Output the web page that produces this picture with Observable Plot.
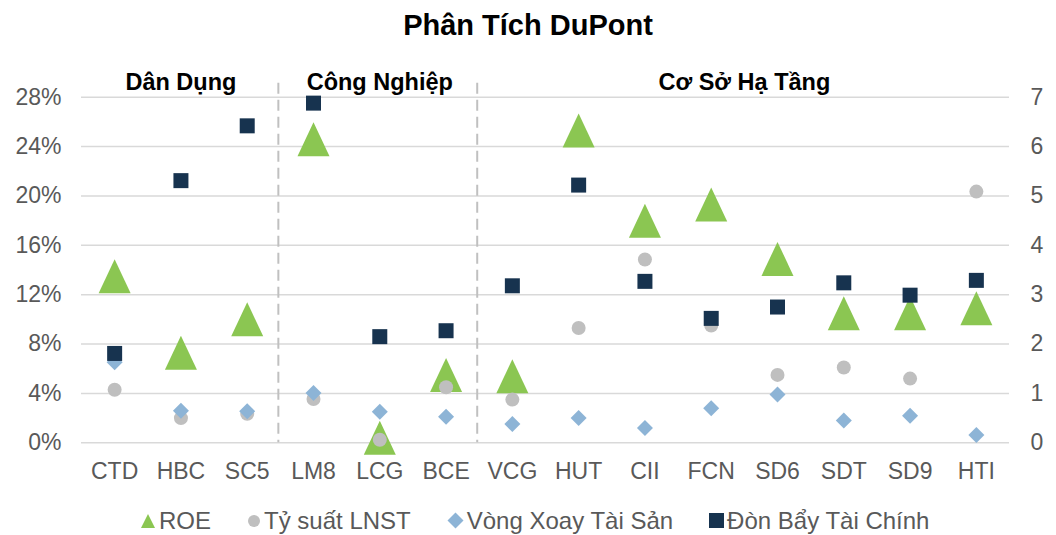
<!DOCTYPE html>
<html>
<head>
<meta charset="utf-8">
<script src="https://cdn.jsdelivr.net/npm/d3@7"></script>
<script src="https://cdn.jsdelivr.net/npm/@observablehq/plot@0.6"></script>
<style>
  body { margin: 0; background: #fff; font-family: "Liberation Sans", Arial, sans-serif; }
  #wrap { width: 1056px; height: 535px; overflow: hidden; }
  #title { height: 50px; line-height: 50px; text-align: center; font-size: 29px; font-weight: bold; color: #000; }
  #chart svg { display: block; }
  #legend { height: 35px; display: flex; align-items: center; padding-left: 140px; padding-top: 6px; box-sizing: border-box; gap: 36px; }
  .item { display: flex; align-items: center; gap: 3px; font-size: 24px; color: #595959; white-space: nowrap; }
  .item svg { display: block; }
</style>
</head>
<body>
<div id="wrap">
  <div id="title">Phân Tích DuPont</div>
  <div id="chart"></div>
  <div id="legend"></div>
</div>
<script>
// ---- data ----
const categories = ["CTD","HBC","SC5","LM8","LCG","BCE","VCG","HUT","CII","FCN","SD6","SDT","SD9","HTI"];
const sectorOf   = ["Dân Dụng","Dân Dụng","Dân Dụng","Công Nghiệp","Công Nghiệp","Công Nghiệp",
                    "Cơ Sở Hạ Tầng","Cơ Sở Hạ Tầng","Cơ Sở Hạ Tầng","Cơ Sở Hạ Tầng","Cơ Sở Hạ Tầng","Cơ Sở Hạ Tầng","Cơ Sở Hạ Tầng","Cơ Sở Hạ Tầng"];
const sectors    = ["Dân Dụng","Công Nghiệp","Cơ Sở Hạ Tầng"];
// left axis (%)
const roe      = [13.5, 7.3, 10.0, 24.6, 0.4, 5.5, 5.4, 25.3, 18.0, 19.3, 14.9, 10.5, 10.5, 10.9];
const lnst     = [4.3, 2.0, 2.35, 3.55, 0.25, 4.5, 3.5, 9.3, 14.85, 9.5, 5.5, 6.1, 5.2, 20.35];
// right axis (times)
const vongXoay = [1.63, 0.65, 0.64, 1.01, 0.63, 0.53, 0.38, 0.50, 0.30, 0.70, 0.98, 0.45, 0.55, 0.16];
const donBay   = [1.81, 5.31, 6.42, 6.88, 2.15, 2.27, 3.18, 5.22, 3.27, 2.52, 2.75, 3.24, 2.99, 3.29];
const leftTicks  = [0, 4, 8, 12, 16, 20, 24, 28];
const rightTicks = [0, 1, 2, 3, 4, 5, 6, 7];
const seriesNames = ["ROE", "Tỷ suất LNST", "Vòng Xoay Tài Sản", "Đòn Bẩy Tài Chính"];

// ---- styling ----
const colors = ["#8BC652", "#BFBFBF", "#8DB4D6", "#17334F"];
const ratio = 28 / 7; // right axis -> left axis units

// custom symbols (bbox-centred like Excel markers); r = half extent
const rOf = size => Math.sqrt(size / Math.PI);
const triangle = { draw(ctx, size) { const r = rOf(size), w = r * 16 / 17; ctx.moveTo(0, -r); ctx.lineTo(w, r); ctx.lineTo(-w, r); ctx.closePath(); } };
const circle   = { draw(ctx, size) { const r = rOf(size); ctx.moveTo(r, 0); ctx.arc(0, 0, r, 0, 2 * Math.PI); ctx.closePath(); } };
const diamond  = { draw(ctx, size) { const r = rOf(size); ctx.moveTo(0, -r); ctx.lineTo(r, 0); ctx.lineTo(0, r); ctx.lineTo(-r, 0); ctx.closePath(); } };
const square   = { draw(ctx, size) { const r = rOf(size); ctx.rect(-r, -r, 2 * r, 2 * r); } };

const rows = categories.map((c, i) => ({ i, c, roe: roe[i], lnst: lnst[i], vx: vongXoay[i] * ratio, db: donBay[i] * ratio }));

// sector label centres and separators
const groupData = sectors.map(name => {
  const idx = categories.map((c, i) => i).filter(i => sectorOf[i] === name);
  return { name, center: d3.mean(idx) };
});
const separators = categories.map((c, i) => i).filter(i => i > 0 && sectorOf[i] !== sectorOf[i - 1]).map(i => i - 0.5);

const font = "'Liberation Sans', Arial, sans-serif";
const chart = Plot.plot({
  width: 1056,
  height: 450,
  marginTop: 46.7,
  marginBottom: 57.7,
  marginLeft: 81,
  marginRight: 47,
  x: { domain: [-0.5, categories.length - 0.5], axis: null },
  y: { domain: [0, 28], axis: null },
  style: { fontFamily: font, background: "white", overflow: "visible", color: "#595959" },
  marks: [
    Plot.ruleY(leftTicks, { stroke: "#D9D9D9", strokeWidth: 1.6 }),
    Plot.ruleX(separators, { x: d => d, stroke: "#C0C0C0", strokeWidth: 2, strokeDasharray: "11,6", insetTop: -14, dx: -2 }),
    Plot.axisY({ ticks: leftTicks, tickSize: 0, tickPadding: 20, tickFormat: d => d + "%", fontSize: 23, fill: "#595959" }),
    Plot.axisY({ anchor: "right", ticks: rightTicks.map(v => v * ratio), tickSize: 0, tickPadding: 21, tickFormat: d => String(d / ratio), fontSize: 23, fill: "#595959" }),
    Plot.axisX({ ticks: categories.map((c, i) => i), tickSize: 0, tickPadding: 20, tickFormat: i => categories[i], fontSize: 23, fill: "#595959" }),
    Plot.text(groupData, { x: "center", text: "name", frameAnchor: "top", dy: -24, fontWeight: "bold", fontSize: 23.5, fill: "#000" }),
    Plot.dot(rows, { x: "i", y: "roe",  symbol: triangle, r: 17,  fill: colors[0] }),
    Plot.dot(rows, { x: "i", y: "lnst", symbol: circle,   r: 7,   fill: colors[1] }),
    Plot.dot(rows, { x: "i", y: "vx",   symbol: diamond,  r: 8,   fill: colors[2] }),
    Plot.dot(rows, { x: "i", y: "db",   symbol: square,   r: 7.5, fill: colors[3] })
  ]
});
document.getElementById("chart").appendChild(chart);

// ---- legend ----
const legendIcons = [
  c => `<svg width="16" height="16"><path d="M8,1 L15,15 L1,15 Z" fill="${c}"/></svg>`,
  c => `<svg width="14" height="14"><circle cx="7" cy="7" r="6" fill="${c}"/></svg>`,
  c => `<svg width="17" height="17"><path d="M8.5,0.5 L16.5,8.5 L8.5,16.5 L0.5,8.5 Z" fill="${c}"/></svg>`,
  c => `<svg width="15" height="15"><rect x="0" y="0" width="15" height="15" fill="${c}"/></svg>`
];
const legend = document.getElementById("legend");
seriesNames.forEach((name, k) => {
  const item = document.createElement("div");
  item.className = "item";
  item.innerHTML = legendIcons[k](colors[k]) + `<span>${name}</span>`;
  legend.appendChild(item);
});
</script>
</body>
</html>
